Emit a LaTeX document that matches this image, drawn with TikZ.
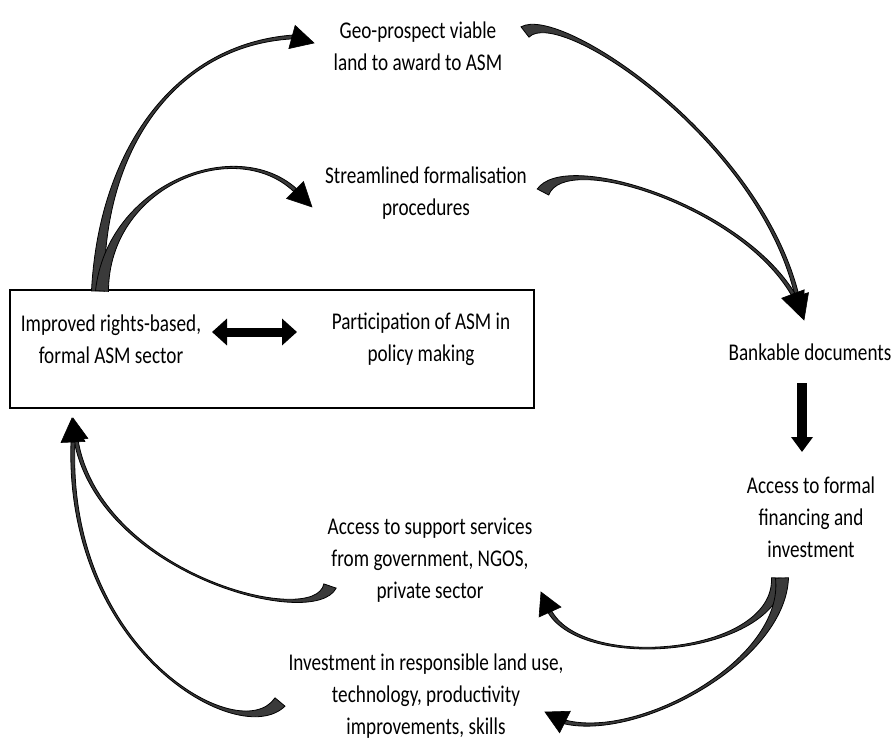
\documentclass[tikz,border=0pt]{standalone}
\usepackage{fontspec}
\setmainfont[FakeStretch=0.8]{Carlito}
\usepackage{xcolor}
\usepackage{tikz}
\usetikzlibrary{calc,arrows.meta}

\definecolor{arrowgray}{HTML}{3A3A3A}

% tail, control 1, control 2, neck, tip, tail half width
\newcommand\bentarrow[6]{%
    \coordinate (bt) at #1;
    \coordinate (ba) at #2;
    \coordinate (bb) at #3;
    \coordinate (bn) at #4;
    \coordinate (bp) at #5;
    \filldraw[bentbody] ($(bt)!#6!90:(ba)$) .. controls ($(ba)!1.5pt!90:(bb)$) and ($(bb)!1pt!90:(bn)$) .. ($(bn)!2pt!90:(bp)$)
        -- ($(bn)!2pt!-90:(bp)$) .. controls ($(bb)!1pt!-90:(bn)$) and ($(ba)!1.5pt!-90:(bb)$) .. ($(bt)!#6!-90:(ba)$) -- cycle;
    \filldraw[benthead] ($(bn)!12pt!90:(bp)$) -- (bp) -- ($(bn)!12pt!-90:(bp)$) -- cycle;
}

\begin{document}
\begin{tikzpicture}[x=1pt, y=-1pt,
        txt/.style={align=center, inner sep=0pt, font=\fontsize{24}{32}\selectfont},
        bentbody/.style={fill=arrowgray, draw=black, line width=0.8pt},
        benthead/.style={fill=black, draw=black, line width=0.6pt},
        blockarrow/.style={line width=#1}]
    \useasboundingbox (0,0) rectangle (895,742);

    \node[draw, line width=1.2pt, minimum width=524pt, minimum height=118pt] (box) at (272,349) {};
    \node[txt] (improved) at (111,339) {Improved rights-based,\\formal ASM sector};
    \node[txt] (partic) at (421,339) {Participation of ASM in\\policy making};
    \node[txt] (geo) at (418,46) {Geo-prospect viable\\land to award to ASM};
    \node[txt] (stream) at (426,193) {Streamlined formalisation\\procedures};
    \node[txt] (bank) at (810,352) {Bankable documents};
    \node[txt] (finance) at (811,517) {Access to formal\\financing and\\investment};
    \node[txt] (support) at (430,560) {Access to support services\\from government, NGOS,\\private sector};
    \node[txt] (invest) at (426,696) {Investment in responsible land use,\\technology, productivity\\improvements, skills};

    \coordinate (dl) at (212,332);
    \coordinate (dr) at (297,332);
    \draw[blockarrow=9pt, {Triangle[length=15pt,width=26pt]}-{Triangle[length=15pt,width=26pt]}] (dl) -- (dr);

    \coordinate (dtop) at (802,383);
    \coordinate (dbot) at (802,452);
    \draw[blockarrow=10pt, -{Triangle[length=15pt,width=21pt]}] (dtop) -- (dbot);

    % box -> geo, box -> stream
    \bentarrow{(98,291)}{(100,150)}{(175,45)}{(292,37)}{(314,43)}{6.5pt}
    \bentarrow{(102,291)}{(108,185)}{(235,135)}{(295,190)}{(312,207)}{6.5pt}
    % geo, stream -> bank
    \bentarrow{(525,32)}{(560,5)}{(760,140)}{(797,296)}{(804,320)}{6.5pt}
    \bentarrow{(543,192)}{(565,150)}{(740,205)}{(793,294)}{(802,318)}{6.5pt}
    % finance -> support, invest
    \bentarrow{(778,578)}{(775,655)}{(585,672)}{(550,612)}{(541,592)}{6.5pt}
    \bentarrow{(782,578)}{(785,660)}{(640,740)}{(565,722)}{(545,712)}{6.5pt}
    % support, invest -> box
    \bentarrow{(330,586)}{(315,630)}{(100,575)}{(76,440)}{(73,418)}{6.5pt}
    \bentarrow{(280,702)}{(240,750)}{(65,650)}{(73,442)}{(72,418)}{6.5pt}
\end{tikzpicture}
\end{document}
